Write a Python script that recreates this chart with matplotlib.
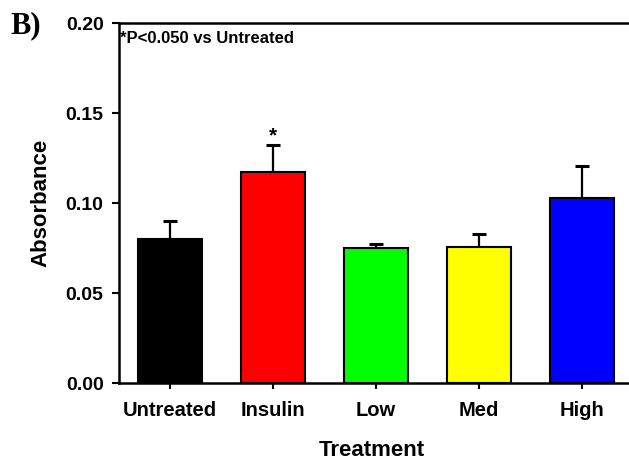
import matplotlib
matplotlib.use("Agg")
import matplotlib.pyplot as plt

# dados
tratamentos = ["Untreated", "Insulin", "Low", "Med", "High"]
absorbancia = [0.080, 0.117, 0.0752, 0.0755, 0.1028]
erro = [0.010, 0.015, 0.0018, 0.0075, 0.0178]
cores = ["#000000", "#ff0000", "#00ff00", "#ffff00", "#0000ff"]
yticks = [0.00, 0.05, 0.10, 0.15, 0.20]

plt.rcParams['font.family'] = ['Liberation Sans', 'DejaVu Sans']
plt.rcParams['font.weight'] = 'bold'

fig = plt.figure(figsize=(6.29, 4.61), dpi=100)
ax = fig.add_axes([0.189, 0.169, 1.024 - 0.189, 0.781])

x = range(len(tratamentos))
ax.bar(x, absorbancia, width=0.62, color=cores, edgecolor="black", linewidth=1.5, zorder=2)
# so a barra de erro de cima
ax.errorbar(x, absorbancia, yerr=[[0] * len(erro), erro], fmt="none", ecolor="black",
            elinewidth=1.6, capsize=4.7, capthick=2.2, zorder=1)

ax.set_xlim(-0.495, 4.6)
ax.set_ylim(0, 0.20)
ax.set_yticks(yticks)
ax.set_yticklabels(["%.2f" % v for v in yticks])
ax.set_xticks(list(x))
ax.set_xticklabels(tratamentos)

for s in ["left", "bottom", "top"]:
    ax.spines[s].set_linewidth(1.8)
ax.spines["right"].set_visible(False)
ax.tick_params(axis="y", direction="out", length=5, width=1.5, labelsize=14, pad=6)
ax.tick_params(axis="x", direction="out", length=4, width=1.5, labelsize=14.5, pad=9)

ax.set_ylabel("Absorbance", fontsize=16, fontweight="bold", labelpad=10)
# o eixo passa da borda, entao centraliza o titulo na mao
ax.set_xlabel("Treatment", fontsize=16, fontweight="bold", labelpad=14, x=0.482)

# asterisco de significancia
ax.text(1, absorbancia[1] + erro[1] + 0.0003, "*", ha="center", va="bottom",
        fontsize=15, fontweight="bold")
ax.text(0.003, 0.978, "*P<0.050 vs Untreated", transform=ax.transAxes,
        ha="left", va="top", fontsize=12, fontweight="bold")

fig.text(0.016, 0.945, "B)", family="Liberation Serif", fontsize=22,
         fontweight="bold", ha="left", va="center")

fig.savefig("out.png", dpi=100)
